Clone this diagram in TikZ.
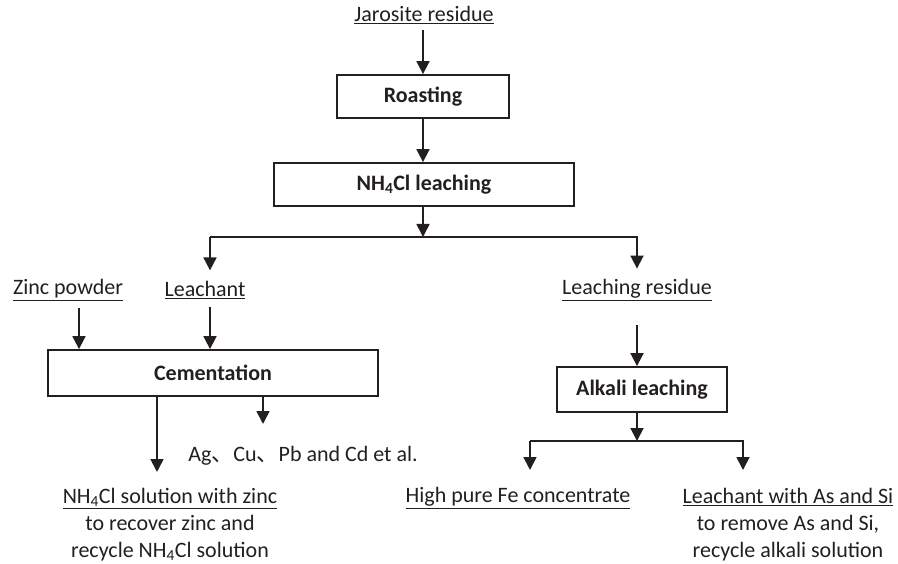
\documentclass[tikz,border=0pt]{standalone}
\usepackage{fontspec}
\setmainfont{Carlito}
\newfontfamily\cjk{Noto Sans CJK SC}
\usepackage{tikz}
\usetikzlibrary{positioning, arrows.meta}
\definecolor{fInk}{HTML}{231F20}
\newcommand{\ds}{\textsubscript{4}}
\newcommand{\dun}{{\cjk 、}}

\begin{document}
\begin{tikzpicture}[x=1pt, y=-1pt, >={Triangle[length=13pt,width=13pt]},
      line width=1.8pt, fInk,
      txt/.style={inner sep=0pt, align=center, text=fInk, font=\fontsize{22}{27}\selectfont},
      stage/.style={draw=fInk, line width=1.8pt, minimum height=43pt, inner sep=0pt,
        text=fInk, font=\fontsize{22}{27}\selectfont\bfseries}]
      \useasboundingbox (0,0) rectangle (898,564);
      % main line
      \node[txt] (jar) at (424,15) {\underline{Jarosite residue}};
      \node[stage, minimum width=172pt] (roast) at (423,96.5) {Roasting};
      \node[stage, minimum width=300pt] (nhl) at (424,184.5) {NH\ds Cl leaching};
      \draw[->] ([yshift=-5pt]jar.south -| roast.north) -- (roast.north);
      \draw[->] (roast.south) -- (roast.south |- nhl.north);
      % split after leaching
      \coordinate (split) at (423,237);
      \coordinate (splitL) at (210,237);
      \coordinate (splitR) at (637,237);
      \coordinate (zx) at (79,0);
      \coordinate (cx1) at (157,472);
      \coordinate (cx2) at (263,424);
      \draw[->] (nhl.south -| split) -- (split);
      \node[txt] (zinc) at (68,290) {\underline{Zinc powder}};
      \node[txt] (leach) at (205,290) {\underline{Leachant}};
      \node[txt] (res) at (637,290) {\underline{Leaching residue}};
      \draw[->] (splitL) -- ([yshift=10pt]leach.north -| splitL);
      \draw[->] (splitL) -- (splitR) -- ([yshift=10pt]res.north -| splitR);
      % cementation
      \node[stage, minimum width=330pt, minimum height=46pt] (cem) at (213,373) {Cementation};
      \draw[->] ([yshift=-7pt]zinc.south -| zx) -- (cem.north -| zx);
      \draw[->] ([yshift=-7pt]leach.south -| splitL) -- (cem.north -| splitL);
      \node[txt] (agcu) at (303,456) {Ag\dun Cu\dun Pb and Cd et al.};
      \node[txt] (nhsol) at (170,525) {\underline{NH\ds Cl solution with zinc}\\to recover zinc and\\recycle NH\ds Cl solution};
      \draw[->] (cem.south -| cx1) -- (cx1);
      \draw[->] (cem.south -| cx2) -- (cx2);
      % alkali leaching
      \node[stage, minimum width=170pt, minimum height=45pt] (alk) at (642,389.5) {Alkali leaching};
      \draw[->] ([yshift=-24pt]res.south) -- (alk.north -| res.south);
      \coordinate (split2) at (637,441);
      \coordinate (split2L) at (530,441);
      \coordinate (split2R) at (743,441);
      \draw[->] (alk.south -| split2) -- (split2);
      \node[txt] (fe) at (518,498) {\underline{High pure Fe concentrate}};
      \node[txt] (asi) at (788,525) {\underline{Leachant with As and Si}\\to remove As and Si,\\recycle alkali solution};
      \draw[->] (split2L) -- (split2R) -- ([yshift=-29pt]split2R);
      \draw[->] (split2L) -- ([yshift=-29pt]split2L);
    \end{tikzpicture}
\end{document}
